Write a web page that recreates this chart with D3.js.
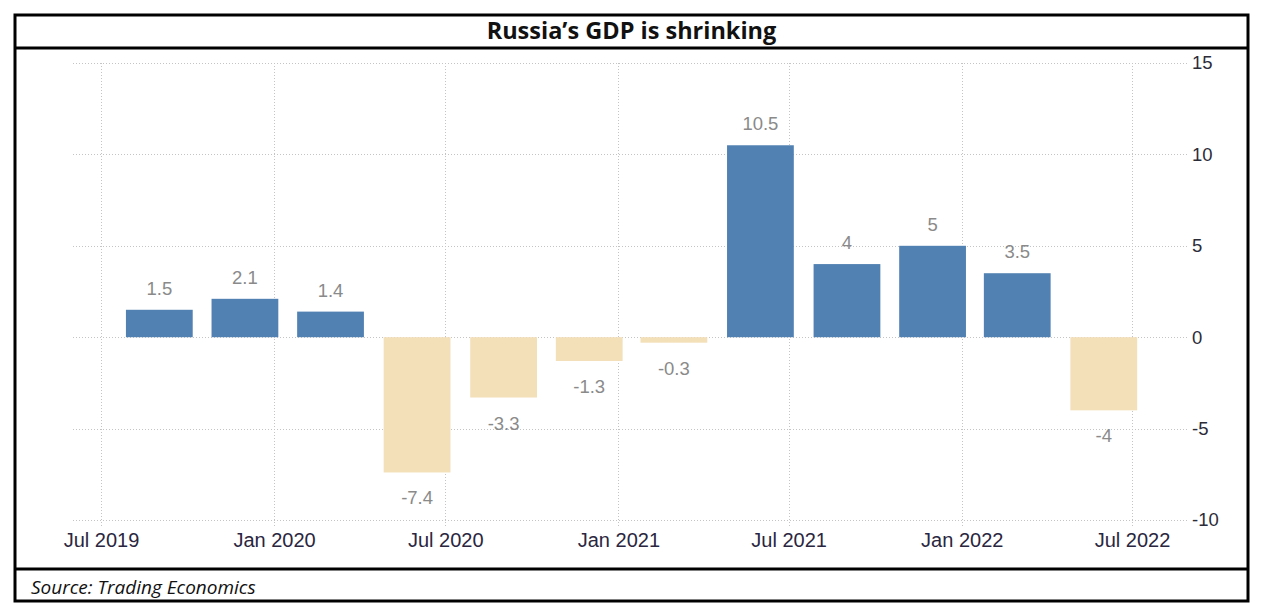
<!DOCTYPE html>
<html>
<head>
<meta charset="utf-8">
<script src="https://cdn.jsdelivr.net/npm/d3@7"></script>
<style>
  body { margin: 0; background: #fff; }
  svg { display: block; }
</style>
</head>
<body>
<div class="graph"></div>
<script>
// data
const quarters = ["2019-09-01", "2019-12-01", "2020-03-01", "2020-06-01",
                  "2020-09-01", "2020-12-01", "2021-03-01", "2021-06-01",
                  "2021-09-01", "2021-12-01", "2022-03-01", "2022-06-01"];
const growth = [1.5, 2.1, 1.4, -7.4, -3.3, -1.3, -0.3, 10.5, 4, 5, 3.5, -4];
const xTicks = ["2019-07-01", "2020-01-01", "2020-07-01", "2021-01-01",
                "2021-07-01", "2022-01-01", "2022-07-01"];
const yTicks = [15, 10, 5, 0, -5, -10];
const title = "Russia\u2019s GDP is shrinking";
const source = "Source: Trading Economics";

const W = 1274, H = 607;
const BOX = {L: 15, R: 1248, T: 15, B: 601, TITLE: 48, FOOT: 569};
const PLOT = {L: 73, R: 1187, T: 63, B: 520};

const parse = d3.timeParse("%Y-%m-%d");
const data = quarters.map((q, i) => ({date: parse(q), value: growth[i]}));

// plain hyphen for negatives, like the original
const fmt = d => String(d);

const svg = d3.select(".graph").append("svg")
    .attr("width", W)
    .attr("height", H);

// scales: Jul 2019 and Jul 2022 anchor the time axis
const x = d3.scaleTime()
    .domain([parse(xTicks[0]), parse(xTicks[xTicks.length - 1])])
    .range([101, 1132]);

const y = d3.scaleLinear()
    .domain([-10, 15])
    .range([PLOT.B, PLOT.T]);

// gridlines
const grid = svg.append("g")
    .attr("stroke", "#c4c4c4")
    .attr("stroke-width", 1)
    .attr("stroke-dasharray", "1,2");

grid.selectAll(".hgrid")
    .data(yTicks)
    .join("line")
    .attr("x1", PLOT.L).attr("x2", PLOT.R)
    .attr("y1", d => Math.round(y(d)) + 0.5)
    .attr("y2", d => Math.round(y(d)) + 0.5);

grid.selectAll(".vgrid")
    .data(xTicks)
    .join("line")
    .attr("x1", d => Math.round(x(parse(d))) + 0.5)
    .attr("x2", d => Math.round(x(parse(d))) + 0.5)
    .attr("y1", PLOT.T)
    .attr("y2", PLOT.B + 7);

// bars
const step = x(data[1].date) - x(data[0].date);
const barW = step * 0.78;

svg.append("g").selectAll("rect")
    .data(data)
    .join("rect")
    .attr("x", d => x(d.date) - barW / 2)
    .attr("width", barW)
    .attr("y", d => y(Math.max(0, d.value)))
    .attr("height", d => Math.abs(y(d.value) - y(0)))
    .attr("fill", d => d.value >= 0 ? "#5181b2" : "#f3dfb8");

// value labels
svg.append("g").selectAll("text")
    .data(data)
    .join("text")
    .attr("x", d => x(d.date))
    .attr("y", d => d.value >= 0 ? y(d.value) - 15 : y(d.value) + 32)
    .attr("text-anchor", "middle")
    .attr("font-family", "Liberation Sans, Arial, sans-serif")
    .attr("font-size", 18.5)
    .attr("fill", "#8a8a8a")
    .text(d => fmt(d.value));

// y axis labels on the right
const yAxis = d3.axisRight(y)
    .tickValues(yTicks)
    .tickSize(0)
    .tickPadding(0)
    .tickFormat(fmt);

svg.append("g")
    .attr("transform", `translate(${PLOT.R + 5},0)`)
    .call(yAxis)
    .call(g => g.select(".domain").remove())
    .call(g => g.selectAll("text")
        .attr("font-family", "Liberation Sans, Arial, sans-serif")
        .attr("font-size", 18.5)
        .attr("fill", "#2c2c38"));

// x axis labels
const xAxis = d3.axisBottom(x)
    .tickValues(xTicks.map(parse))
    .tickSize(0)
    .tickPadding(0)
    .tickFormat(d3.timeFormat("%b %Y"));

svg.append("g")
    .attr("transform", `translate(0,${PLOT.B + 13})`)
    .call(xAxis)
    .call(g => g.select(".domain").remove())
    .call(g => g.selectAll("text")
        .attr("font-family", "Liberation Sans, Arial, sans-serif")
        .attr("font-size", 20)
        .attr("fill", "#2a2640"));

// frame, title and source
const frame = svg.append("g")
    .attr("fill", "none")
    .attr("stroke", "#000")
    .attr("stroke-width", 3);

frame.append("rect")
    .attr("x", BOX.L).attr("y", BOX.T)
    .attr("width", BOX.R - BOX.L)
    .attr("height", BOX.B - BOX.T);

frame.append("line")
    .attr("x1", BOX.L).attr("x2", BOX.R)
    .attr("y1", BOX.TITLE).attr("y2", BOX.TITLE);

frame.append("line")
    .attr("x1", BOX.L).attr("x2", BOX.R)
    .attr("y1", BOX.FOOT).attr("y2", BOX.FOOT);

svg.append("text")
    .attr("x", (BOX.L + BOX.R) / 2)
    .attr("y", 39)
    .attr("text-anchor", "middle")
    .attr("font-family", "Open Sans, sans-serif")
    .attr("font-weight", "bold")
    .attr("font-size", 23.5)
    .attr("fill", "#111")
    .text(title);

svg.append("text")
    .attr("x", 31)
    .attr("y", 594)
    .attr("font-family", "Open Sans, sans-serif")
    .attr("font-style", "italic")
    .attr("font-size", 19)
    .attr("fill", "#111")
    .text(source);
</script>
</body>
</html>
